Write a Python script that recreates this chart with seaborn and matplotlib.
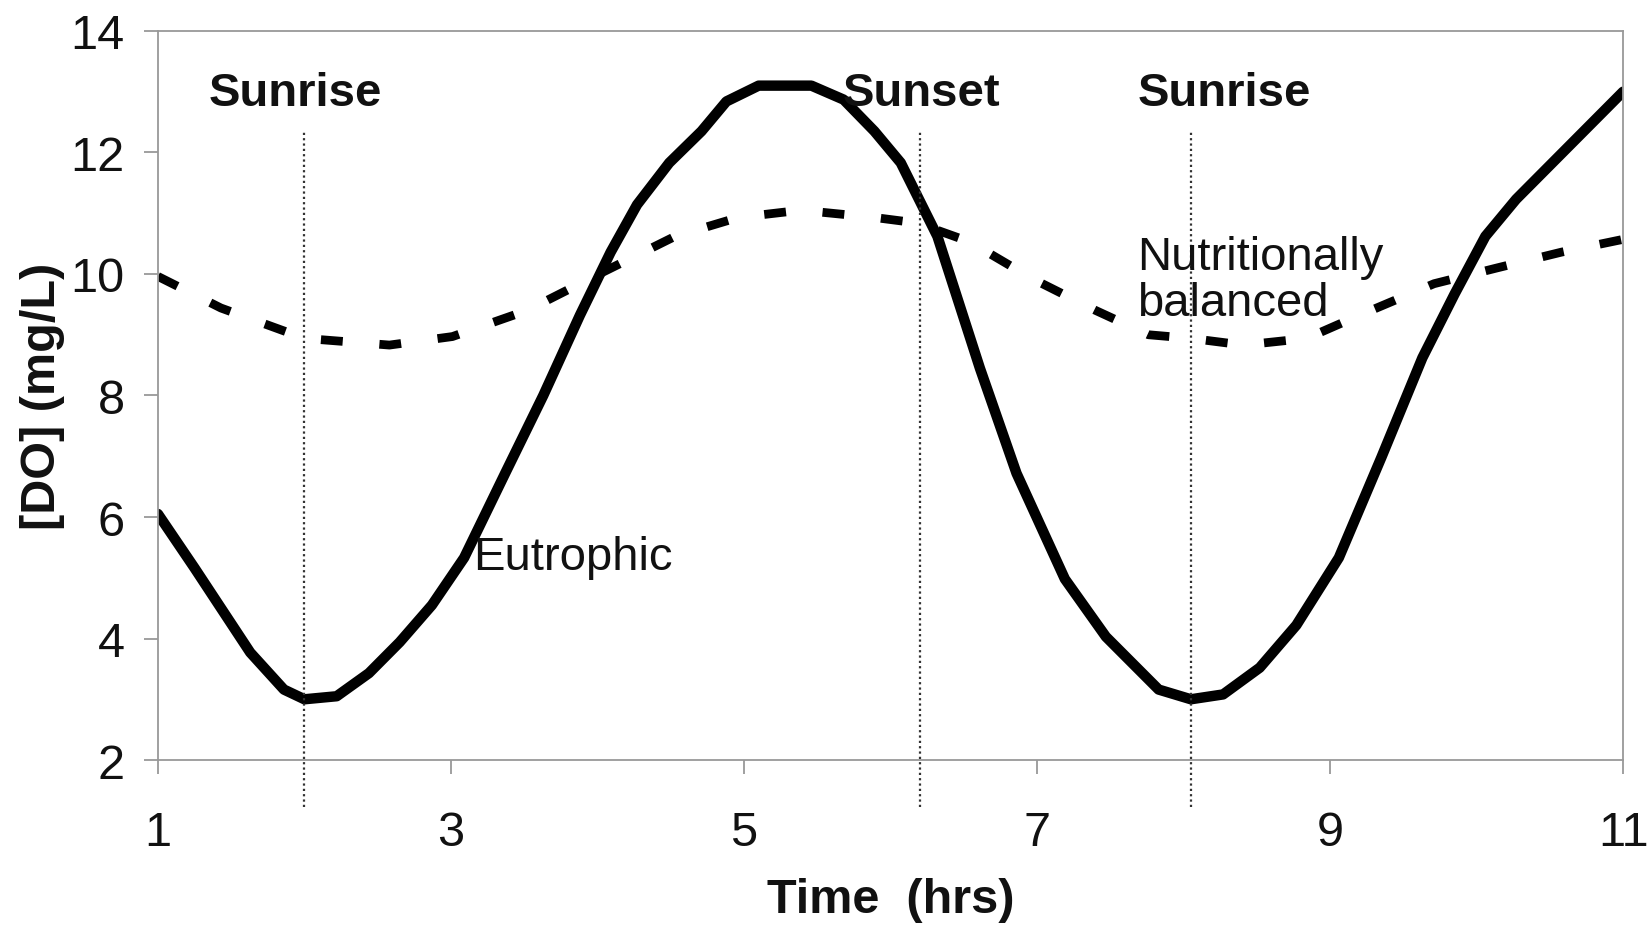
import numpy as np
import pandas as pd
import matplotlib
matplotlib.use("Agg")
import matplotlib.pyplot as plt
import seaborn as sns

# Eutrophic curve (solid)
eu_time = [1.0, 1.25, 1.63, 1.86, 2.0, 2.22, 2.44, 2.65, 2.87, 3.09, 3.37, 3.63,
           3.88, 4.09, 4.27, 4.49, 4.71, 4.88, 5.10, 5.46, 5.68, 5.89, 6.07, 6.32,
           6.61, 6.86, 7.19, 7.47, 7.83, 8.05, 8.27, 8.52, 8.77, 9.06, 9.35, 9.63,
           9.85, 10.06, 10.27, 11.0]
eu_do = [6.05, 5.16, 3.77, 3.16, 3.0, 3.05, 3.43, 3.94, 4.55, 5.33, 6.72, 8.0,
         9.32, 10.36, 11.14, 11.83, 12.35, 12.84, 13.1, 13.1, 12.87, 12.35, 11.83, 10.62,
         8.45, 6.72, 4.98, 4.03, 3.16, 3.0, 3.08, 3.52, 4.22, 5.33, 6.98, 8.62,
         9.67, 10.62, 11.23, 13.0]

# Nutritionally balanced curve (dashed)
nb_time = [1.0, 1.43, 2.0, 2.58, 3.01, 3.52, 4.02, 4.53, 4.96, 5.39, 5.89, 6.18,
           6.54, 6.97, 7.40, 7.76, 8.05, 8.41, 8.84, 9.2, 9.71, 10.14, 10.58, 11.0]
nb_do = [9.96, 9.44, 8.94, 8.83, 8.97, 9.40, 10.01, 10.62, 10.93, 11.05, 10.93, 10.84,
         10.53, 9.92, 9.40, 9.0, 8.94, 8.83, 8.94, 9.32, 9.84, 10.1, 10.36, 10.57]

event_times = [2.0, 6.2, 8.05]
event_labels = ["Sunrise", "Sunset", "Sunrise"]
event_label_x = [1.94, 6.21, 8.28]

x_ticks = [1, 3, 5, 7, 9, 11]
y_ticks = [2, 4, 6, 8, 10, 12, 14]

sns.set_theme(style="white")
plt.rcParams['font.family'] = ['Liberation Sans', 'DejaVu Sans']

fig, ax = plt.subplots(figsize=(16.52, 9.29), dpi=100)
fig.subplots_adjust(left=0.0956, right=0.9825, top=0.9656, bottom=0.1808)

eu = pd.DataFrame({'time': eu_time, 'do': eu_do})
nb = pd.DataFrame({'time': nb_time, 'do': nb_do})

sns.lineplot(data=nb, x='time', y='do', ax=ax, color='black', lw=6.3,
             linestyle=(0, (2.5, 4.2)), dash_capstyle='butt')
sns.lineplot(data=eu, x='time', y='do', ax=ax, color='black', lw=7.5,
             solid_joinstyle='round')

ax.vlines(event_times, 1.23, 12.35, colors='#333333', lw=1.6,
          linestyles=[(0, (1, 1.4))], clip_on=False)

for lx, lab in zip(event_label_x, event_labels):
    ax.text(lx, 12.98, lab, ha='center', va='center', fontsize=34,
            fontweight='bold', color='#111111')

ax.text(3.15, 5.35, "Eutrophic", ha='left', va='center', fontsize=34, color='#111111')
ax.text(7.68, 9.9, "Nutritionally\nbalanced", ha='left', va='center', fontsize=34,
        color='#111111', linespacing=1.05)

ax.set_xlim(1, 11)
ax.set_ylim(2, 14)
ax.set_xticks(x_ticks)
ax.set_yticks(y_ticks)
ax.tick_params(axis='both', which='both', direction='out', length=10, width=1.3,
               color='#999999', labelsize=35, labelcolor='#111111',
               bottom=True, left=True)
ax.tick_params(axis='x', pad=26)
ax.tick_params(axis='y', pad=14)

for sp in ax.spines.values():
    sp.set_visible(True)
    sp.set_color('#999999')
    sp.set_linewidth(1.3)

ax.set_xlabel("Time  (hrs)", fontsize=35, fontweight='bold', color='#111111', labelpad=16)
ax.set_ylabel("[DO] (mg/L)", fontsize=35, fontweight='bold', color='#111111', labelpad=4)

fig.savefig("out.png", dpi=100, facecolor='white')
